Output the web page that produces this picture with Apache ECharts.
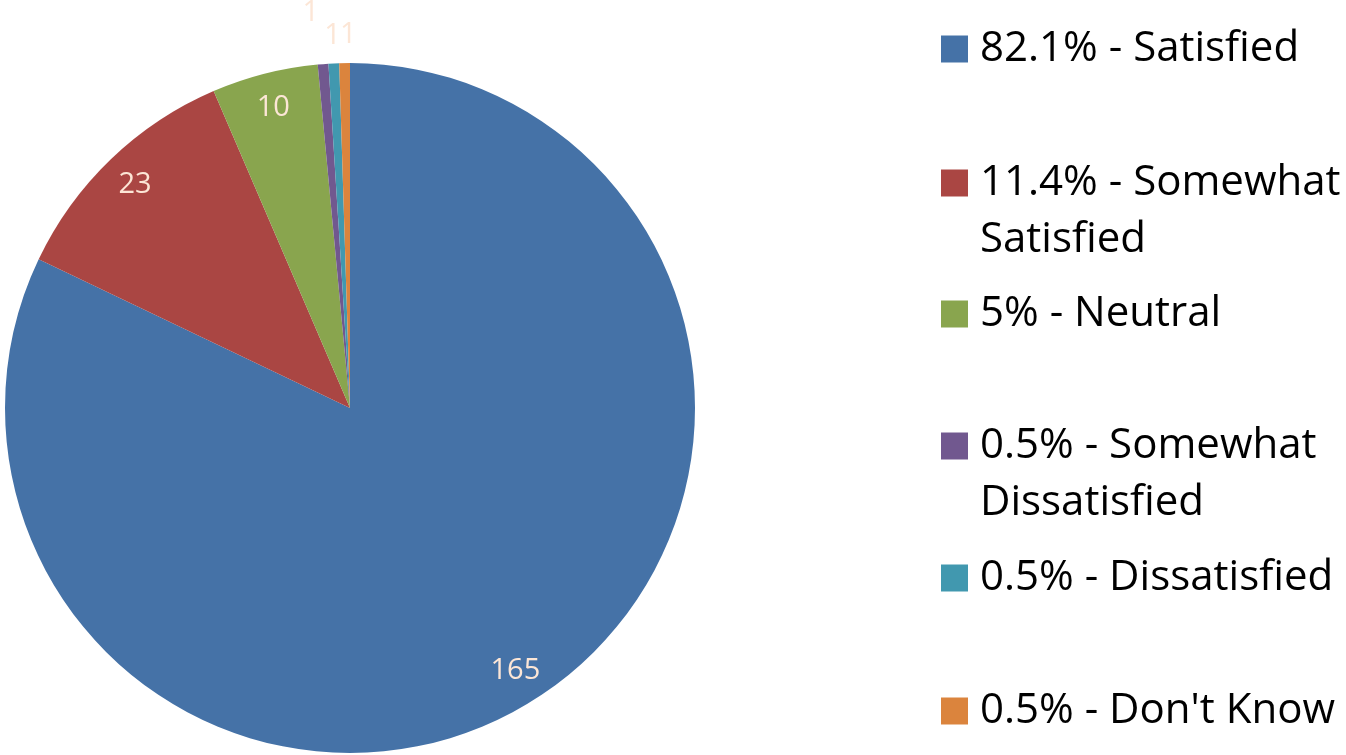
<!DOCTYPE html>
<html><head><meta charset="utf-8">
<script src="https://cdn.jsdelivr.net/npm/echarts@6/dist/echarts.min.js"></script>
<style>html,body{margin:0;padding:0;background:#fff}#c{width:1346px;height:755px}</style>
</head><body><div id="c"></div>
<script>
// ---- data ----
const categories = ['Satisfied', 'Somewhat Satisfied', 'Neutral', 'Somewhat Dissatisfied', 'Dissatisfied', "Don't Know"];
const counts = [165, 23, 10, 1, 1, 1];
const percentLabels = ['82.1%', '11.4%', '5%', '0.5%', '0.5%', '0.5%'];

// ---- style / layout ----
const colors = ['#4572A7', '#AA4643', '#89A54E', '#71588F', '#4198AF', '#DB843D'];
const labelColor = '#FCE6D6';
const font = 'Open Sans';
const center = [350, 408];
const R = 345;
const legendIconCenterY = [49, 183, 314, 446, 578, 711];
const legendLineH = 57;

const names = categories.map((c, i) => percentLabels[i] + ' - ' + c);
const isWrapped = n => n.indexOf('Somewhat ') >= 0;
const wrapName = n => isWrapped(n) ? '\n' + n.replace('Somewhat ', 'Somewhat\n') : n;
const isSmall = i => counts[i] <= 1;

const pieData = names.map((n, i) => ({ name: n, value: counts[i], itemStyle: { color: colors[i] } }));
const innerLabelData = names.map((n, i) => ({ name: n, value: counts[i], label: { show: !isSmall(i) } }));
const outerLabelData = names.map((n, i) => ({ name: n, value: counts[i], label: { show: isSmall(i) } }));

const legends = names.map((n, i) => {
  const wrapped = isWrapped(n);
  return {
    data: [n],
    left: 941,
    top: wrapped ? legendIconCenterY[i] - legendLineH * 1.5 : legendIconCenterY[i] - legendLineH / 2,
    padding: 0,
    itemGap: 0,
    itemWidth: 27,
    itemHeight: 27,
    icon: 'rect',
    selectedMode: false,
    formatter: wrapName,
    textStyle: {
      fontFamily: font, fontSize: 42, color: '#000', lineHeight: legendLineH,
      padding: [0, 0, 0, 7]
    }
  };
});

const labelSeries = (radius, data, layout) => ({
  type: 'pie',
  center: center,
  radius: radius,
  startAngle: 90,
  clockwise: true,
  silent: true,
  avoidLabelOverlap: false,
  itemStyle: { color: 'rgba(0,0,0,0)', borderWidth: 0 },
  label: { show: true, position: 'inside', formatter: '{c}', color: labelColor, fontFamily: font, fontSize: 29 },
  labelLine: { show: false },
  labelLayout: layout,
  emphasis: { disabled: true },
  data: data
});

// small nudges for the crowded labels of the tiny slices
const smallLabelNudge = { 3: { dx: -10, dy: -23 }, 5: { dx: 4 } };

const chart = echarts.init(document.getElementById('c'));
chart.setOption({
  backgroundColor: '#fff',
  animation: false,
  legend: legends,
  series: [
    {
      type: 'pie',
      center: center,
      radius: [0, R],
      startAngle: 90,
      clockwise: true,
      silent: true,
      label: { show: false },
      labelLine: { show: false },
      itemStyle: { borderWidth: 0 },
      data: pieData
    },
    labelSeries([R * 0.78, R], innerLabelData),
    labelSeries([R + 12, R + 38], outerLabelData, p => smallLabelNudge[p.dataIndex] || {})
  ]
});
</script></body></html>
